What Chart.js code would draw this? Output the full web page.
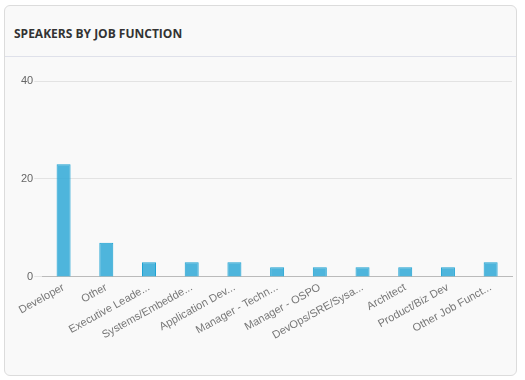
<!DOCTYPE html>
<html>
<head>
<meta charset="utf-8">
<script src="https://cdn.jsdelivr.net/npm/chart.js@4"></script>
<style>
  body { margin: 0; background: #fff; }
  .card {
    position: absolute; left: 4px; top: 5px; width: 511px; height: 369px;
    background: #f9f9f9; border: 1px solid #dcdcdc; border-radius: 6px;
  }
  .card-header {
    height: 50px; border-bottom: 1px solid #dfe1ea;
    font-family: "Open Sans", sans-serif; font-weight: 700; font-size: 12px;
    color: #333; line-height: 55px; padding-left: 9px;
  }
  .chartBox { position: absolute; left: 9px; top: 56px; width: 502px; height: 284px; }
</style>
</head>
<body>
<div class="card">
  <div class="card-header">SPEAKERS BY JOB FUNCTION</div>
  <div class="chartBox"><canvas id="myChart"></canvas></div>
</div>
<script>
const jobFunctions = ['Developer', 'Other', 'Executive Leade...', 'Systems/Embedde...', 'Application Dev...',
  'Manager - Techn...', 'Manager - OSPO', 'DevOps/SRE/Sysa...', 'Architect', 'Product/Biz Dev', 'Other Job Funct...'];
const speakerCounts = [23, 7, 3, 3, 3, 2, 2, 2, 2, 2, 3];
const yTicks = [0, 20, 40];

const tickFont = { family: "'Liberation Sans', Arial, sans-serif", size: 11 };

const ctx = document.getElementById('myChart').getContext('2d');
new Chart(ctx, {
  type: 'bar',
  data: {
    labels: jobFunctions,
    datasets: [{
      label: 'Speakers',
      data: speakerCounts,
      backgroundColor: 'rgba(54, 171, 215, 0.88)',
      borderColor: '#1fa3d3',
      borderWidth: 1,
      barPercentage: 0.41,
      categoryPercentage: 0.8,
    }],
  },
  options: {
    responsive: true,
    maintainAspectRatio: false,
    animation: false,
    layout: { padding: { top: 19, right: 4, left: 6, bottom: 0 } },
    plugins: { legend: { display: false }, tooltip: { enabled: false } },
    scales: {
      x: {
        grid: { display: false, drawTicks: false },
        border: { display: true, color: '#bbbbbb' },
        ticks: {
          color: '#777', minRotation: 29, maxRotation: 29, autoSkip: false,
          padding: 4, font: tickFont,
        },
      },
      y: {
        min: 0, max: 40,
        afterBuildTicks: (axis) => { axis.ticks = yTicks.map(v => ({ value: v })); },
        grid: { color: '#e3e3e3', tickLength: 8 },
        border: { display: false },
        ticks: { color: '#666', padding: 1, font: tickFont },
      },
    },
  },
});
</script>
</body>
</html>
